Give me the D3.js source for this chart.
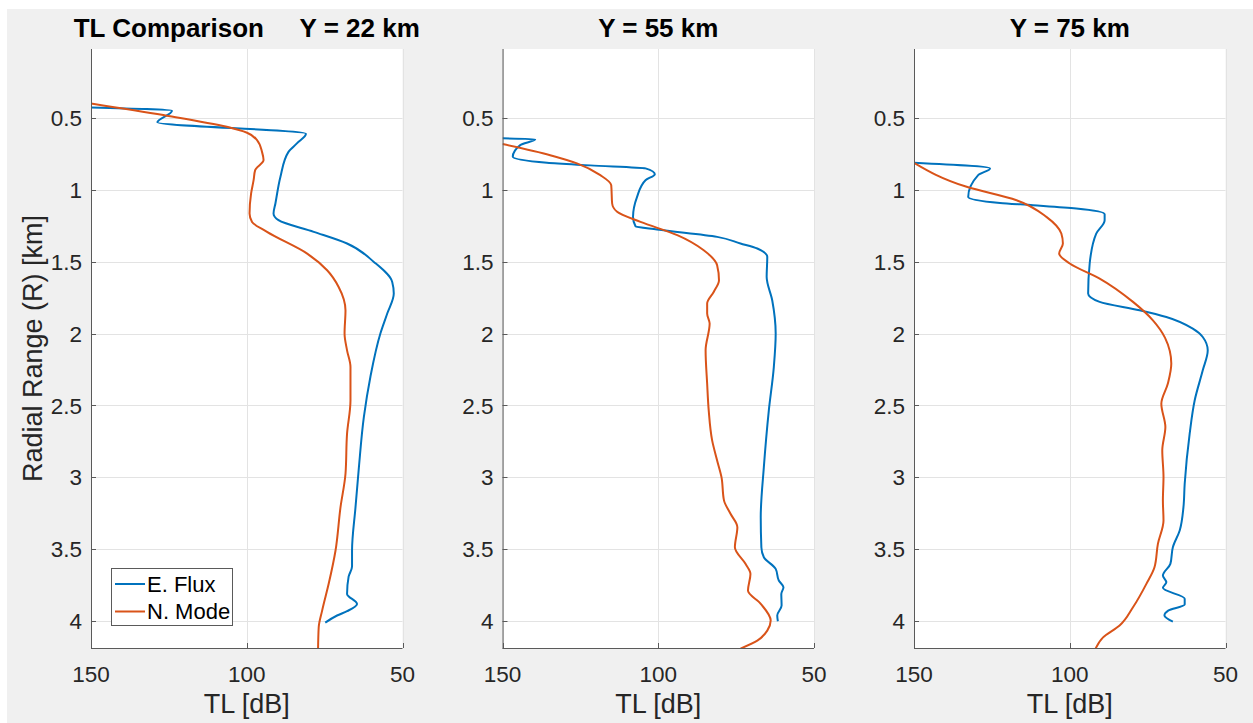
<!DOCTYPE html>
<html>
<head>
<meta charset="utf-8">
<script src="https://d3js.org/d3.v7.min.js"></script>
<style>
  body { margin: 0; background: #fff; font-family: "Liberation Sans", Arial, Helvetica, sans-serif; }
  .tick-label { font-size: 22.5px; fill: #262626; }
  .axis-label { font-size: 27px; fill: #262626; text-anchor: middle; }
  .title { font-size: 26px; font-weight: bold; fill: #000; text-anchor: middle; white-space: pre; }
  .grid { stroke: #e3e3e3; stroke-width: 1; }
  .axis { stroke: #5a5a5a; stroke-width: 1; fill: none; }
  .legend-text { font-size: 22px; fill: #000; }
</style>
</head>
<body>
<script>
// ---- data: [R km], [TL dB] ----
var yTicks = [0.5, 1, 1.5, 2, 2.5, 3, 3.5, 4];
var xTicks = [150, 100, 50];
var titles = ["TL Comparison     Y = 22 km", "Y = 55 km", "Y = 75 km"];
var seriesNames = ["E. Flux", "N. Mode"];

var r22Flux = [0.428,0.451,0.532,0.611,0.678,0.737,0.911,1.096,1.165,1.212,1.293,1.374,1.502,1.641,1.722,1.861,2.0,2.30,2.58,2.93,3.21,3.51,3.62,3.69,3.81,3.88,3.93,3.96,4.01];
var tl22Flux = [150,124,128.7,81,83.9,86.6,89.2,90.8,91.4,89.8,78.5,67.8,59.2,53.3,52.8,54.9,57.1,60.3,62.4,64.0,65.1,66.2,66.2,67.3,67.8,64.6,67.8,71.0,74.8];
var r22Mode = [0.40,0.481,0.563,0.604,0.655,0.737,0.794,0.864,0.934,1.026,1.165,1.224,1.293,1.444,1.56,1.676,1.838,2.0,2.117,2.233,2.465,2.696,2.975,3.207,3.508,3.74,3.926,4.042,4.19];
var tl22Mode = [150,126.8,106.4,99.9,96.7,95.1,94.6,97.3,97.8,98.6,99.1,98.3,93.5,80.6,74.2,70.5,68.3,68.6,67.8,66.7,66.7,67.8,68.3,69.9,71.5,73.7,75.8,76.9,77.1];

var r55Flux = [0.643,0.650,0.690,0.771,0.813,0.831,0.852,0.892,0.934,1.05,1.189,1.254,1.277,1.328,1.374,1.409,1.467,1.606,1.77,2.0,2.233,2.534,2.929,3.277,3.486,3.555,3.636,3.717,3.764,3.81,3.891,3.96,4.0];
var tl55Flux = [150,139.5,144.3,146.7,135.7,121.8,104.1,101.1,104.1,106.8,108.1,107.3,100.4,81.1,73.6,68.2,65.0,65.2,63.4,62.3,62.9,64.5,66.1,67.1,66.9,66.1,62.3,61.3,59.8,60.5,60.4,61.8,61.6];
var r55Mode = [0.683,0.76,0.817,0.899,0.968,1.096,1.154,1.224,1.316,1.421,1.525,1.629,1.711,1.792,1.861,1.931,2.117,2.349,2.534,2.743,2.882,2.998,3.16,3.253,3.346,3.486,3.601,3.671,3.787,3.879,3.995,4.065,4.135,4.19];
var tl55Mode = [150,134.7,126.1,118.6,115.1,114.8,113.2,105.7,93.9,85.4,81.1,80.5,82.2,84.3,84.3,83.5,84.8,84.3,83.8,82.7,81.1,79.7,78.9,76.8,74.6,75.4,72.0,70.4,71.2,67.1,63.9,65.0,68.2,73.6];

var r75Flux = [0.813,0.852,0.899,1.05,1.092,1.108,1.131,1.17,1.212,1.305,1.513,1.722,1.78,1.838,1.885,1.966,2.024,2.117,2.256,2.465,2.696,3.044,3.207,3.369,3.485,3.601,3.682,3.729,3.768,3.844,3.884,3.926,3.96,4.003];
var tl75Flux = [150,125.6,129.4,132.6,122.4,111.8,97.9,88.8,88.8,91.5,93.6,94.1,90.4,77.6,69.0,60.5,57.3,55.7,57.3,59.9,61.5,63.1,63.5,64.7,66.9,67.7,70.1,69.0,70.1,63.1,63.1,68.4,69.6,66.9];
var r75Mode = [0.813,0.98,1.073,1.189,1.305,1.374,1.444,1.513,1.618,1.78,1.908,2.03,2.209,2.348,2.488,2.65,2.812,2.998,3.16,3.3,3.462,3.625,3.74,3.903,4.03,4.112,4.19];
var tl75Mode = [150,133.1,117.1,107.5,102.7,102.2,103.4,100.0,90.4,79.7,73.3,69.4,67.4,68.5,70.6,69.3,70.3,69.9,70.1,69.9,71.7,72.8,75.4,79.7,84.0,89.3,91.7];

var panels = [
  {title: titles[0], flux: [r22Flux, tl22Flux], mode: [r22Mode, tl22Mode]},
  {title: titles[1], flux: [r55Flux, tl55Flux], mode: [r55Mode, tl55Mode]},
  {title: titles[2], flux: [r75Flux, tl75Flux], mode: [r75Mode, tl75Mode]}
];
var colors = ["#0072BD", "#D95319"];

// ---- layout ----
var W = 1253, H = 723;
var plotTop = 49, plotBottom = 648, pw = 311.5, lefts = [91, 502.5, 914];

var svg = d3.select("body").append("svg").attr("width", W).attr("height", H);
svg.append("rect").attr("x", 7).attr("y", 9).attr("width", W - 7).attr("height", H - 9).attr("fill", "#f0f0f0");

var y = d3.scaleLinear().domain([0.022, 4.186]).range([plotTop, plotBottom]);

panels.forEach(function(p, i) {
  var left = lefts[i];
  var x = d3.scaleLinear().domain([150, 50]).range([left, left + pw]);
  var g = svg.append("g");

  g.append("rect").attr("x", left).attr("y", plotTop).attr("width", pw).attr("height", plotBottom - plotTop).attr("fill", "#fff");

  // grid
  g.selectAll(".gx").data(xTicks).enter().append("line").attr("class", "grid")
    .attr("x1", function(d) { return Math.round(x(d)) + 0.5; }).attr("x2", function(d) { return Math.round(x(d)) + 0.5; })
    .attr("y1", plotTop).attr("y2", plotBottom);
  g.selectAll(".gy").data(yTicks).enter().append("line").attr("class", "grid")
    .attr("x1", left).attr("x2", left + pw)
    .attr("y1", function(d) { return Math.round(y(d)) + 0.5; }).attr("y2", function(d) { return Math.round(y(d)) + 0.5; });

  // clip
  var cid = "clip" + i;
  svg.append("clipPath").attr("id", cid).append("rect")
    .attr("x", left).attr("y", plotTop).attr("width", pw).attr("height", plotBottom - plotTop);

  var line = d3.line().curve(d3.curveMonotoneY)
    .x(function(d) { return x(d[1]); }).y(function(d) { return y(d[0]); });

  [p.flux, p.mode].forEach(function(s, k) {
    var pts = s[0].map(function(r, j) { return [r, s[1][j]]; });
    g.append("path").datum(pts).attr("d", line).attr("clip-path", "url(#" + cid + ")")
      .attr("fill", "none").attr("stroke", colors[k]).attr("stroke-width", 2).attr("stroke-linejoin", "round");
  });

  // axes lines
  g.append("line").attr("class", "axis").attr("x1", left + 0.5).attr("x2", left + 0.5).attr("y1", plotTop).attr("y2", plotBottom + 0.5);
  g.append("line").attr("class", "axis").attr("x1", left).attr("x2", left + pw).attr("y1", plotBottom + 0.5).attr("y2", plotBottom + 0.5);

  // ticks
  g.selectAll(".ty").data(yTicks).enter().append("line").attr("class", "axis")
    .attr("x1", left).attr("x2", left + 5)
    .attr("y1", function(d) { return Math.round(y(d)) + 0.5; }).attr("y2", function(d) { return Math.round(y(d)) + 0.5; });
  g.selectAll(".tx").data(xTicks).enter().append("line").attr("class", "axis")
    .attr("x1", function(d) { return Math.round(x(d)) + 0.5; }).attr("x2", function(d) { return Math.round(x(d)) + 0.5; })
    .attr("y1", plotBottom).attr("y2", plotBottom - 5);

  // tick labels
  g.selectAll(".ly").data(yTicks).enter().append("text").attr("class", "tick-label")
    .attr("x", left - 9).attr("y", function(d) { return y(d); }).attr("dy", "0.36em")
    .attr("text-anchor", "end").text(function(d) { return d; });
  g.selectAll(".lx").data(xTicks).enter().append("text").attr("class", "tick-label")
    .attr("x", function(d) { return x(d); }).attr("y", 682)
    .attr("text-anchor", "middle").text(function(d) { return d; });

  g.append("text").attr("class", "axis-label").attr("x", left + pw / 2).attr("y", 713).text("TL [dB]");
  g.append("text").attr("class", "title").attr("x", left + pw / 2).attr("y", 37).text(p.title);
});

// y label
svg.append("text").attr("class", "axis-label")
  .attr("transform", "translate(42," + ((plotTop + plotBottom) / 2) + ") rotate(-90)")
  .text("Radial Range (R) [km]");

// legend
var lg = svg.append("g");
lg.append("rect").attr("x", 111.5).attr("y", 568.5).attr("width", 121).attr("height", 57)
  .attr("fill", "#fff").attr("stroke", "#5a5a5a").attr("stroke-width", 1);
seriesNames.forEach(function(n, k) {
  var cy = 584 + k * 27.5;
  lg.append("line").attr("x1", 115).attr("x2", 145).attr("y1", cy).attr("y2", cy)
    .attr("stroke", colors[k]).attr("stroke-width", 2);
  lg.append("text").attr("class", "legend-text").attr("x", 147).attr("y", cy).attr("dy", "0.36em").text(n);
});
</script>
</body>
</html>
